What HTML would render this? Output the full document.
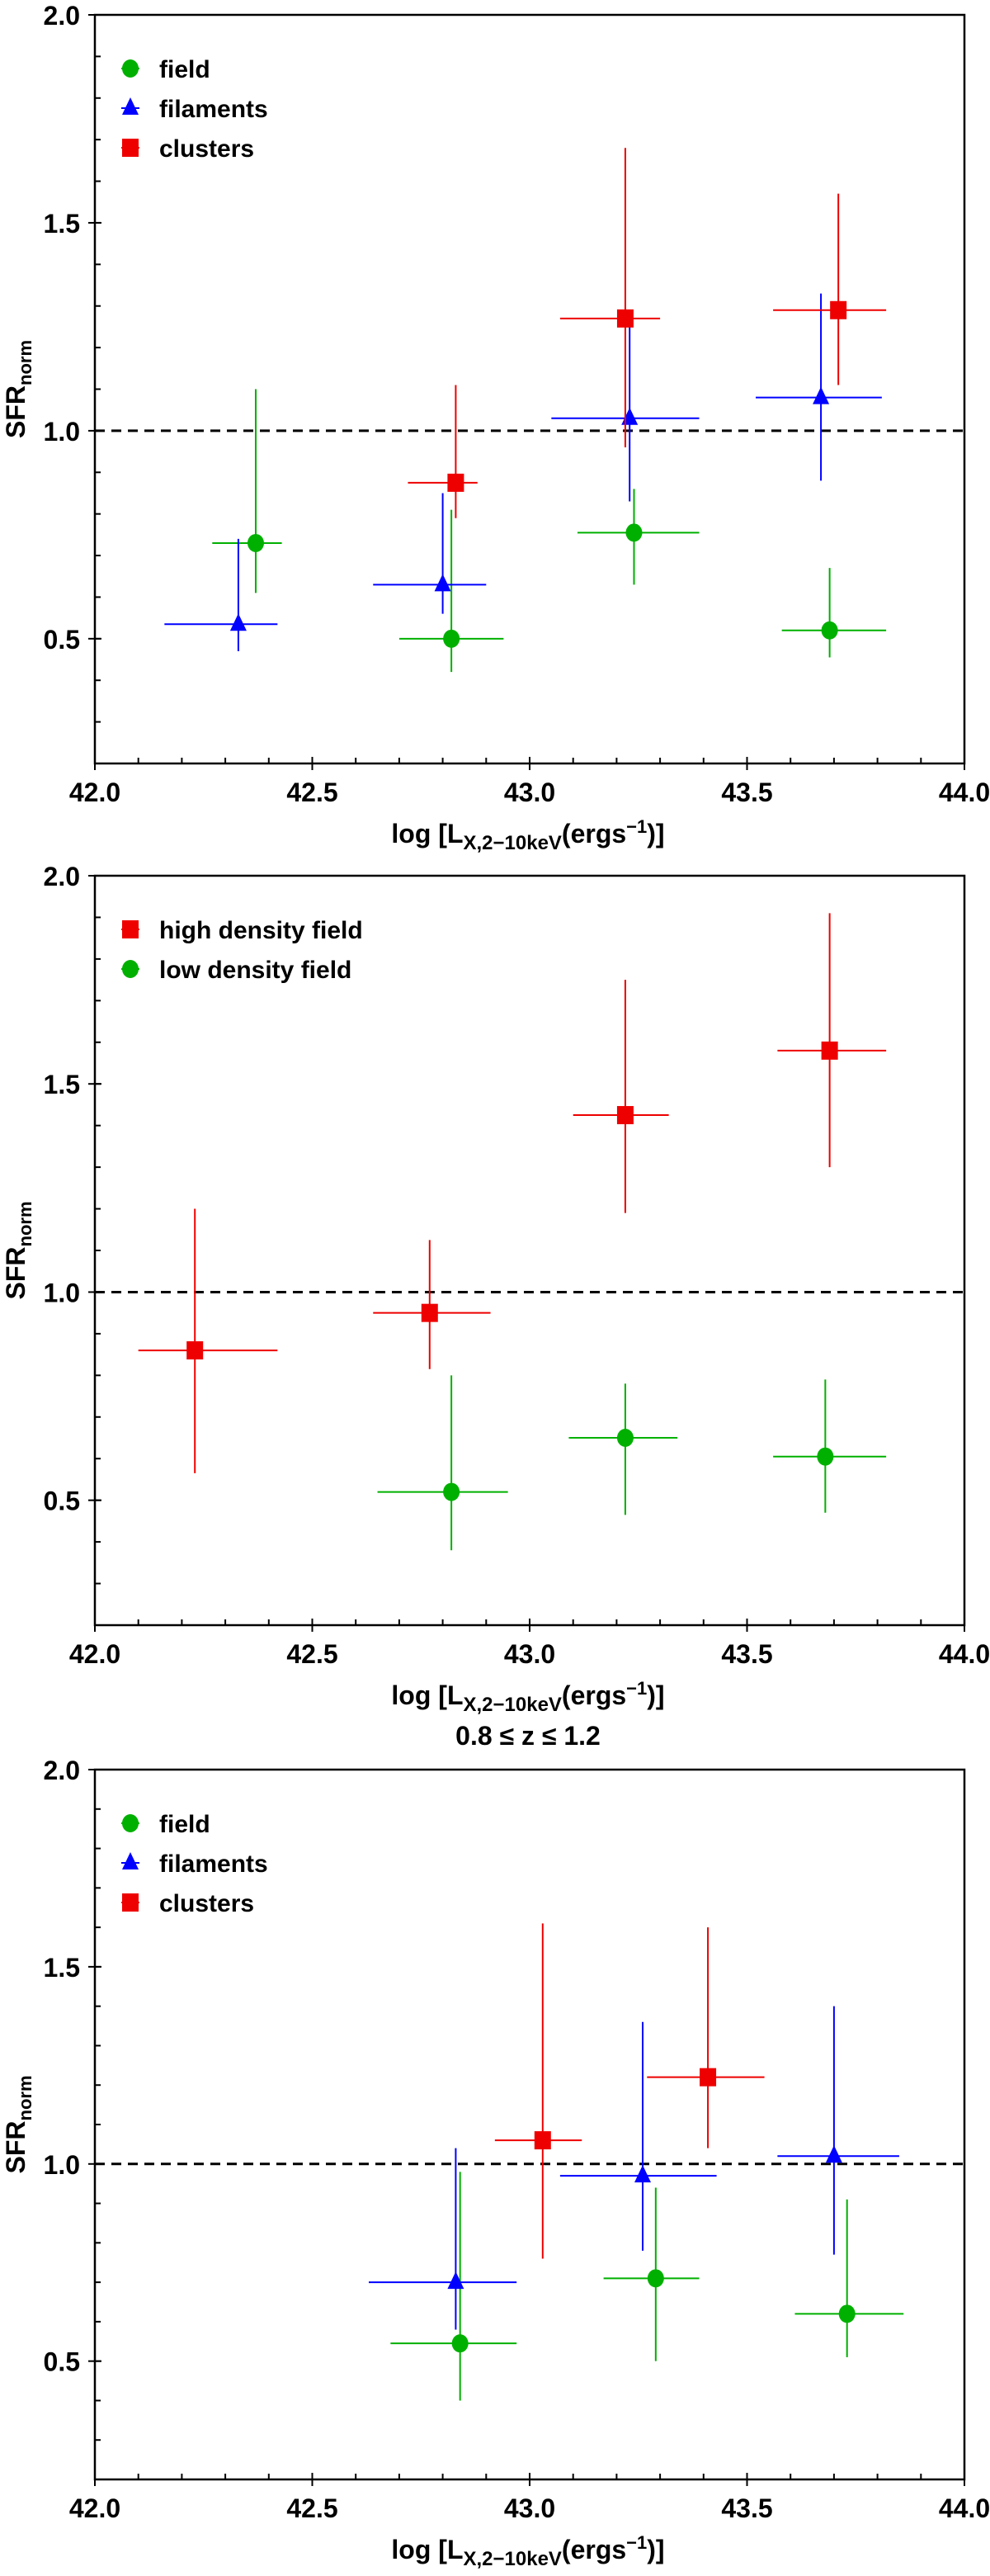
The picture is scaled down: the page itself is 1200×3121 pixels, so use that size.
<!DOCTYPE html>
<html><head><meta charset="utf-8"><style>
html,body{margin:0;padding:0;background:#fff;}
svg{display:block;font-family:"Liberation Sans",sans-serif;}
.tick{font-size:32px;font-weight:bold;}
.leg{font-size:30px;font-weight:bold;}
.lab{font-size:32px;font-weight:bold;}
</style></head><body>
<svg id="fig" width="1200" height="3121" viewBox="0 0 1200 3121" xmlns="http://www.w3.org/2000/svg"></svg>
<script>
// ---- Panel 1 data ----
const p1FieldX=[42.37,42.82,43.24,43.69];
const p1FieldXlo=[42.27,42.70,43.11,43.58];
const p1FieldXhi=[42.43,42.94,43.39,43.82];
const p1FieldY=[0.73,0.50,0.755,0.52];
const p1FieldYlo=[0.61,0.42,0.63,0.455];
const p1FieldYhi=[1.10,0.81,0.86,0.67];
const p1FilX=[42.33,42.80,43.23,43.67];
const p1FilXlo=[42.16,42.64,43.05,43.52];
const p1FilXhi=[42.42,42.90,43.39,43.81];
const p1FilY=[0.535,0.63,1.03,1.08];
const p1FilYlo=[0.47,0.56,0.83,0.88];
const p1FilYhi=[0.74,0.85,1.25,1.33];
const p1CluX=[42.83,43.22,43.71];
const p1CluXlo=[42.72,43.07,43.56];
const p1CluXhi=[42.88,43.30,43.82];
const p1CluY=[0.875,1.27,1.29];
const p1CluYlo=[0.79,0.96,1.11];
const p1CluYhi=[1.11,1.68,1.57];
// ---- Panel 2 data ----
const p2HighX=[42.23,42.77,43.22,43.69];
const p2HighXlo=[42.10,42.64,43.10,43.57];
const p2HighXhi=[42.42,42.91,43.32,43.82];
const p2HighY=[0.86,0.95,1.425,1.58];
const p2HighYlo=[0.565,0.815,1.19,1.30];
const p2HighYhi=[1.20,1.125,1.75,1.91];
const p2LowX=[42.82,43.22,43.68];
const p2LowXlo=[42.65,43.09,43.56];
const p2LowXhi=[42.95,43.34,43.82];
const p2LowY=[0.52,0.65,0.605];
const p2LowYlo=[0.38,0.465,0.47];
const p2LowYhi=[0.80,0.78,0.79];
// ---- Panel 3 data ----
const p3FieldX=[42.84,43.29,43.73];
const p3FieldXlo=[42.68,43.17,43.61];
const p3FieldXhi=[42.97,43.39,43.86];
const p3FieldY=[0.545,0.71,0.62];
const p3FieldYlo=[0.40,0.50,0.51];
const p3FieldYhi=[0.98,0.94,0.91];
const p3FilX=[42.83,43.26,43.70];
const p3FilXlo=[42.63,43.07,43.57];
const p3FilXhi=[42.97,43.43,43.85];
const p3FilY=[0.70,0.97,1.02];
const p3FilYlo=[0.58,0.78,0.77];
const p3FilYhi=[1.04,1.36,1.40];
const p3CluX=[43.03,43.41];
const p3CluXlo=[42.92,43.27];
const p3CluXhi=[43.12,43.54];
const p3CluY=[1.06,1.22];
const p3CluYlo=[0.76,1.04];
const p3CluYhi=[1.61,1.60];
// ---- Axis labels ----
const xTickVals=[42.0,42.5,43.0,43.5,44.0];
const xTickLabels=["42.0","42.5","43.0","43.5","44.0"];
const yTickVals=[0.5,1.0,1.5,2.0];
const yTickLabels=["0.5","1.0","1.5","2.0"];

const NS="http://www.w3.org/2000/svg";
const svg=document.getElementById('fig');
function mk(tag,attrs,parent,text){const e=document.createElementNS(NS,tag);for(const k in attrs)e.setAttribute(k,attrs[k]);if(text!==undefined)e.textContent=text;(parent||svg).appendChild(e);return e;}

const XL=115,XR=1169,XMIN=42,XMAX=44,YMIN=0.2,YMAX=2.0;
function sx(v){return XL+(v-XMIN)/(XMAX-XMIN)*(XR-XL);}

const COL={green:"#00b000",blue:"#0000ff",red:"#ee0000"};

function marker(g,kind,cx,cy,color){
  let m;
  if(kind==='circle') m=mk('ellipse',{cx:cx,cy:cy,rx:10,ry:11,fill:color},g);
  else if(kind==='square') m=mk('rect',{x:cx-10,y:cy-11,width:20,height:22,fill:color},g);
  else m=mk('polygon',{points:`${cx},${cy-13} ${cx-10},${cy+8} ${cx+10},${cy+8}`,fill:color},g);
  return m;
}

function series(g,sy,name,kind,color,X,Xlo,Xhi,Y,Ylo,Yhi){
  const sg=mk('g',{},g);
  
  
  for(let i=0;i<X.length;i++){
    const pg=mk('g',{},sg);
    
    
    mk('line',{x1:sx(Xlo[i]),x2:sx(Xhi[i]),y1:sy(Y[i]),y2:sy(Y[i]),stroke:color,'stroke-width':2},pg);
    mk('line',{x1:sx(X[i]),x2:sx(X[i]),y1:sy(Ylo[i]),y2:sy(Yhi[i]),stroke:color,'stroke-width':2},pg);
    marker(pg,kind,sx(X[i]),sy(Y[i]),color);
  }
}

function panel(idx,top,bottom,legend,seriesList,title){
  const g=mk('g',{});
  
  
  const sy=v=>top+(YMAX-v)/(YMAX-YMIN)*(bottom-top);
  // dashed line
  const d=mk('line',{x1:XL,x2:XR,y1:sy(1.0),y2:sy(1.0),stroke:'#000','stroke-width':3,'stroke-dasharray':'12,8'},g);
  
  
  seriesList.forEach(s=>series(g,sy,s[0],s[1],s[2],s[3],s[4],s[5],s[6],s[7],s[8]));
  // frame
  const f=mk('rect',{x:XL,y:top,width:XR-XL,height:bottom-top,fill:'none',stroke:'#000','stroke-width':2.5},g);
  
  
  // x ticks
  const xa=mk('g',{},g);
  
  
  for(let v=42.1;v<44;v+=0.1){mk('line',{x1:sx(v),x2:sx(v),y1:bottom,y2:bottom-7,stroke:'#000','stroke-width':2},xa);}
  xTickVals.forEach((v,i)=>{
    mk('line',{x1:sx(v),x2:sx(v),y1:bottom-8,y2:bottom+8,stroke:'#000','stroke-width':2},xa);
    mk('text',{x:sx(v),y:bottom+46,'text-anchor':'middle',class:'tick'},xa,xTickLabels[i]);
  });
  const xt=mk('text',{x:640,y:bottom+96,'text-anchor':'middle',class:'lab'},g);
  
  
  xt.innerHTML='log [L<tspan font-size="24" dy="8">X,2−10keV</tspan><tspan dy="-8">(ergs</tspan><tspan font-size="22" dy="-12">−1</tspan><tspan dy="12">)]</tspan>';
  // y ticks
  const ya=mk('g',{},g);
  
  
  for(let v=0.3;v<2.0;v+=0.1){mk('line',{x1:XL,x2:XL+7,y1:sy(v),y2:sy(v),stroke:'#000','stroke-width':2},ya);}
  yTickVals.forEach((v,i)=>{
    mk('line',{x1:XL-8,x2:XL+8,y1:sy(v),y2:sy(v),stroke:'#000','stroke-width':2},ya);
    mk('text',{x:XL-18,y:sy(v)+12,'text-anchor':'end',class:'tick'},ya,yTickLabels[i]);
  });
  const yt=mk('text',{x:0,y:0,'text-anchor':'middle',class:'lab',transform:`translate(30,${(top+bottom)/2}) rotate(-90)`},g);
  
  
  yt.innerHTML='SFR<tspan font-size="22" dy="8">norm</tspan>';
  // legend
  const lg=mk('g',{},g);
  
  
  legend.forEach((L,i)=>{
    const yy=top+65+i*48;
    const e=mk('g',{},lg);
    
    
    mk('line',{x1:147,x2:169,y1:yy,y2:yy,stroke:L[2],'stroke-width':2},e);
    marker(e,L[1],158,yy,L[2]);
    mk('text',{x:193,y:yy+11,class:'leg'},e,L[0]);
  });
  if(title){
    const t=mk('text',{x:640,y:top-30,'text-anchor':'middle',class:'lab'},g,title);
    
    
  }
}

panel(1,18,925,[["field","circle",COL.green],["filaments","tri",COL.blue],["clusters","square",COL.red]],[
 ["field","circle",COL.green,p1FieldX,p1FieldXlo,p1FieldXhi,p1FieldY,p1FieldYlo,p1FieldYhi],
 ["filaments","tri",COL.blue,p1FilX,p1FilXlo,p1FilXhi,p1FilY,p1FilYlo,p1FilYhi],
 ["clusters","square",COL.red,p1CluX,p1CluXlo,p1CluXhi,p1CluY,p1CluYlo,p1CluYhi]]);
panel(2,1061,1969,[["high density field","square",COL.red],["low density field","circle",COL.green]],[
 ["high-density-field","square",COL.red,p2HighX,p2HighXlo,p2HighXhi,p2HighY,p2HighYlo,p2HighYhi],
 ["low-density-field","circle",COL.green,p2LowX,p2LowXlo,p2LowXhi,p2LowY,p2LowYlo,p2LowYhi]]);
panel(3,2144,3004,[["field","circle",COL.green],["filaments","tri",COL.blue],["clusters","square",COL.red]],[
 ["field","circle",COL.green,p3FieldX,p3FieldXlo,p3FieldXhi,p3FieldY,p3FieldYlo,p3FieldYhi],
 ["filaments","tri",COL.blue,p3FilX,p3FilXlo,p3FilXhi,p3FilY,p3FilYlo,p3FilYhi],
 ["clusters","square",COL.red,p3CluX,p3CluXlo,p3CluXhi,p3CluY,p3CluYlo,p3CluYhi]],"0.8 ≤ z ≤ 1.2");
</script>
</body></html>
